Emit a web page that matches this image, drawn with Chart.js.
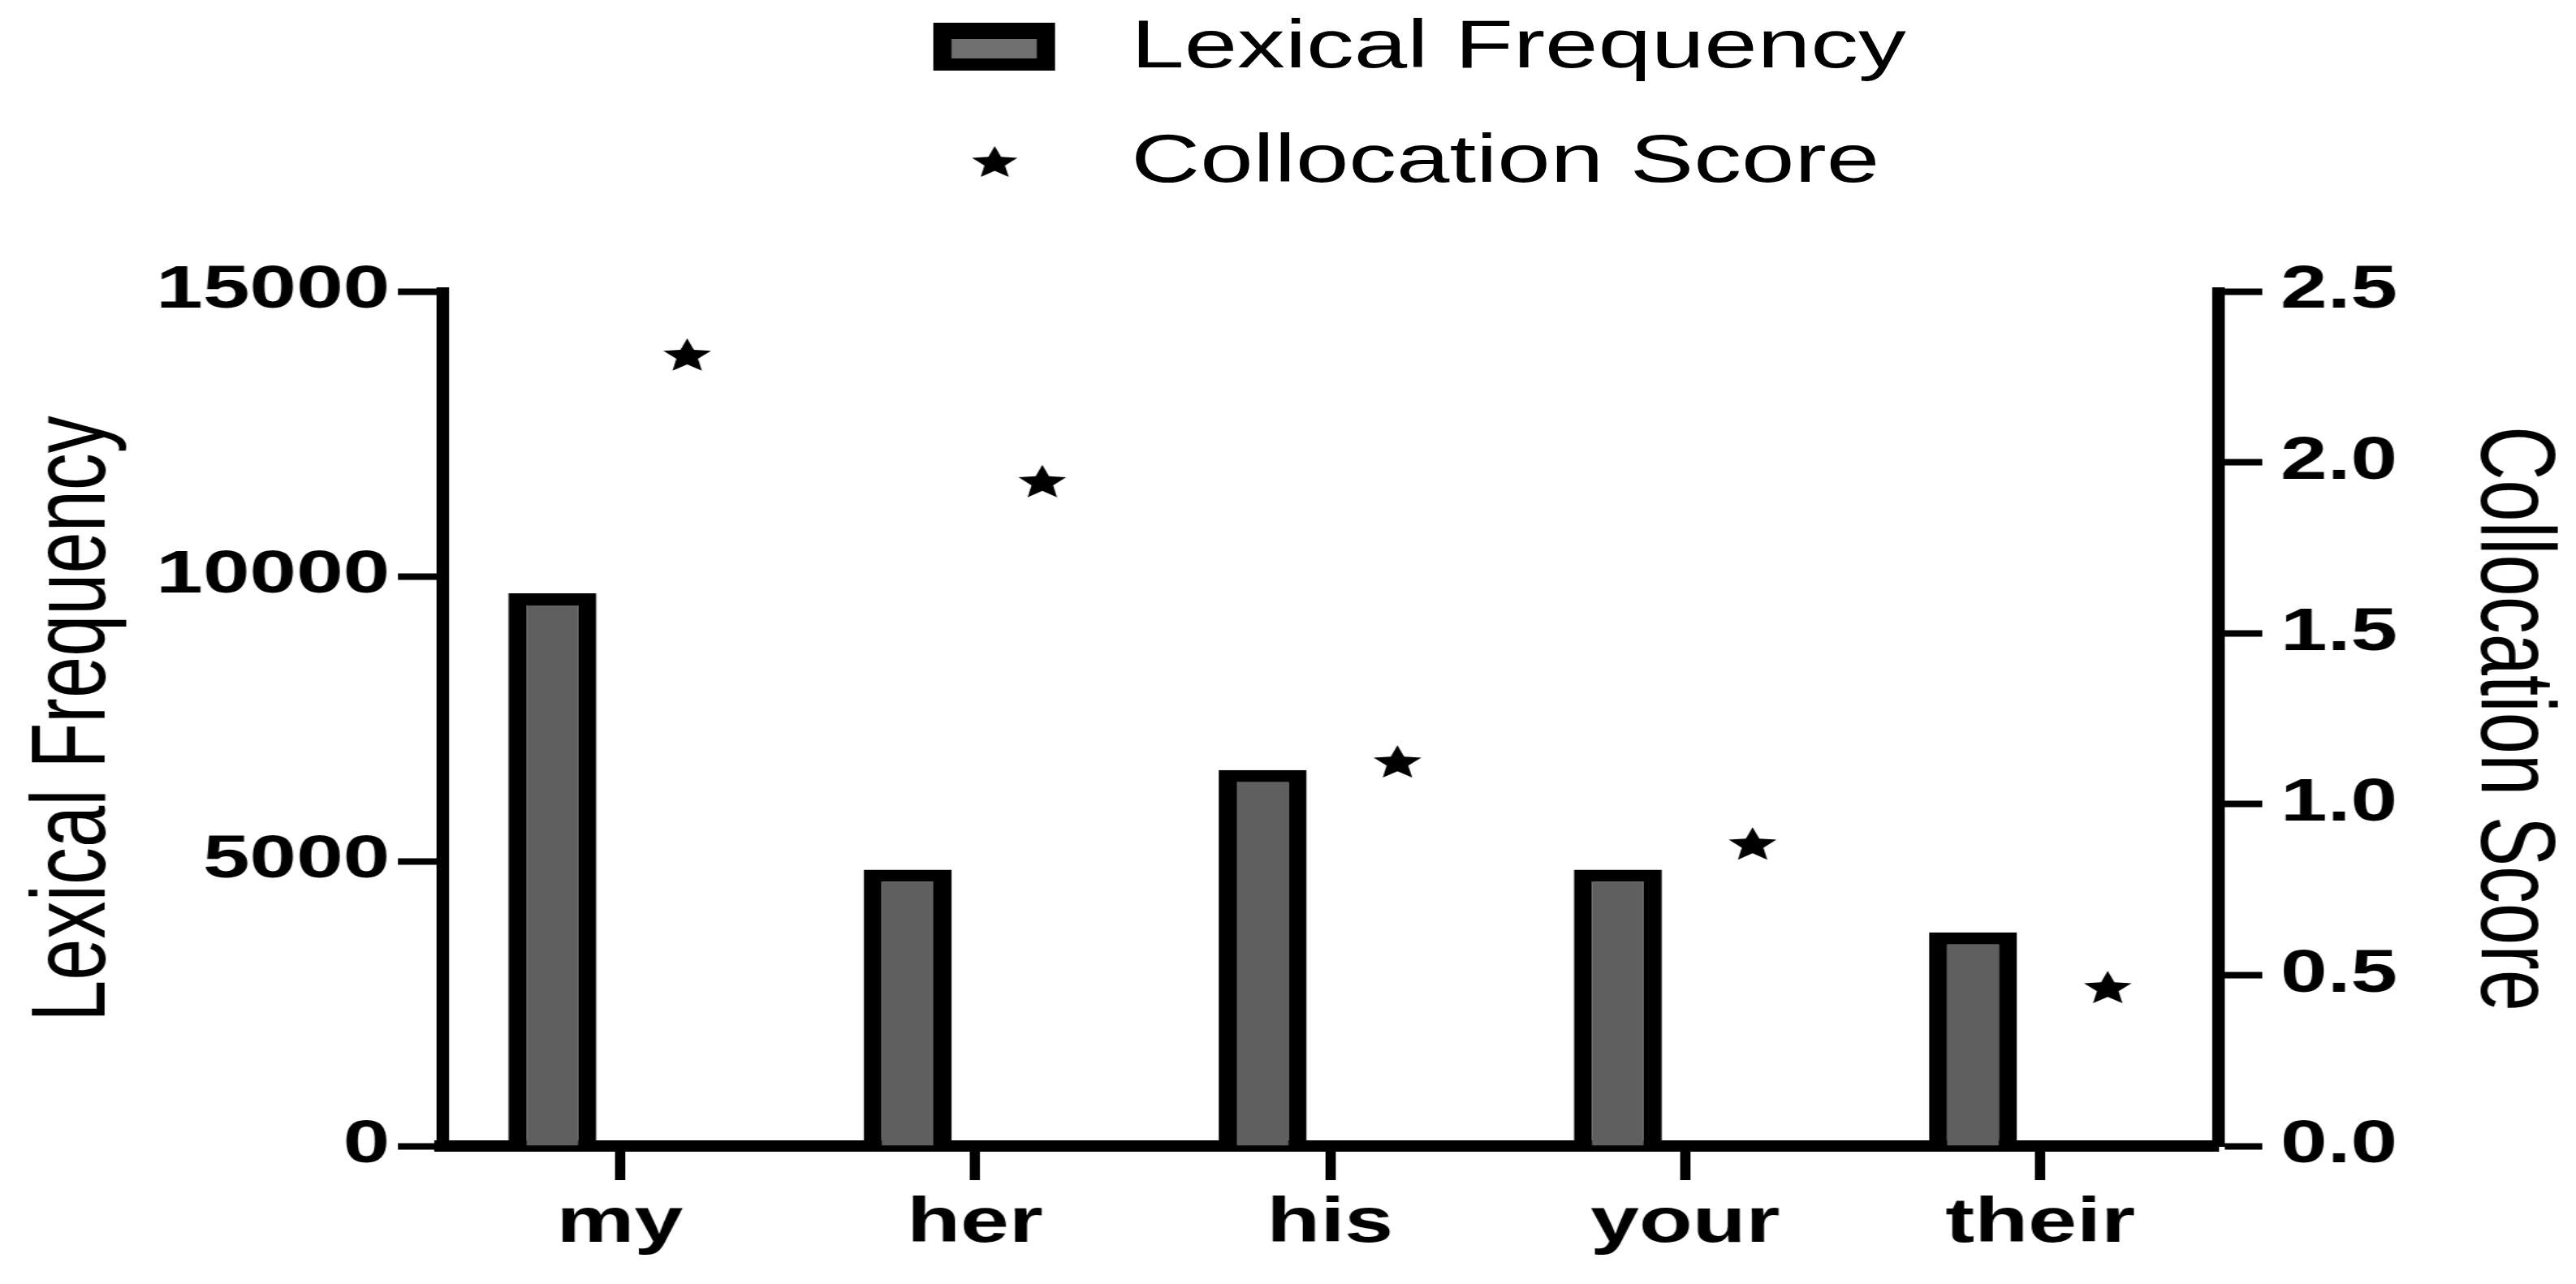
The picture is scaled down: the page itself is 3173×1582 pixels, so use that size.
<!DOCTYPE html>
<html>
<head>
<meta charset="utf-8">
<title>Lexical Frequency and Collocation Score</title>
<script src="https://cdn.jsdelivr.net/npm/chart.js@4.4.1/dist/chart.umd.min.js"></script>
<style>
    html, body { margin: 0; padding: 0; background: #fff; overflow: hidden; }
    /* the original figure is stretched sideways, so the whole stage is too */
    #stage { position: relative; width: 2266px; height: 1582px; transform: scaleX(1.40026); transform-origin: 0 0; }
    #saleChart { position: absolute; left: 0; top: 0; }
    .legend-box { position: absolute; left: 821px; top: 28px; width: 107px; height: 59px; box-sizing: border-box;
                  border-style: solid; border-color: #000; border-width: 20px 16px 15px 16px; background: #707070; }
    .legend-star { position: absolute; left: 845px; top: 171px; }
    .legend-text { position: absolute; left: 995px; font-family: 'Liberation Sans', Arial, sans-serif;
                   font-size: 84px; line-height: 84px; color: #000; white-space: nowrap; }
</style>
</head>
<body>
<div id="stage">
    <canvas id="saleChart" width="2266" height="1582" style="width:2266px;height:1582px"></canvas>
    <div class="legend-box"></div>
    <div class="legend-text" id="legendText0" style="top:12px"></div>
    <canvas class="legend-star" id="legendStar" width="60" height="60"></canvas>
    <div class="legend-text" id="legendText1" style="top:153px"></div>
</div>
<script>
    'use strict';

    var categories       = ['my', 'her', 'his', 'your', 'their'];
    var lexicalFrequency = [9700, 4850, 6600, 4850, 3750];
    var collocationScore = [2.31, 1.94, 1.12, 0.88, 0.46];
    var frequencyTicks   = [0, 5000, 10000, 15000];
    var scoreTicks       = [0, 0.5, 1.0, 1.5, 2.0, 2.5];

    var black = '#000';
    var barGrey = '#5f5f5f';

    function starPath(ctx, cx, cy, outer, inner) {
        ctx.beginPath();
        for (var k = 0; k < 10; k++) {
            var r = (k % 2 === 0) ? outer : inner;
            var a = -Math.PI / 2 + k * Math.PI / 5;
            var px = cx + r * Math.cos(a);
            var py = cy + r * Math.sin(a);
            if (k === 0) { ctx.moveTo(px, py); } else { ctx.lineTo(px, py); }
        }
        ctx.closePath();
    }

    // draws a filled star on top of each (invisible) collocation bar
    var starMarks = {
        id: 'starMarks',
        afterDatasetsDraw: function (chart) {
            var ctx = chart.ctx;
            var meta = chart.getDatasetMeta(1);
            ctx.save();
            ctx.fillStyle = black;
            meta.data.forEach(function (bar) {
                starPath(ctx, bar.x, bar.y, 22, 10);
                ctx.fill();
            });
            ctx.restore();
        }
    };

    var tickFont = { family: "'Liberation Sans', Arial, sans-serif", size: 74, weight: 'bold' };
    var titleFont = { family: "'Liberation Sans', Arial, sans-serif", size: 92, lineHeight: 1.2 };

    var SALECHART = document.getElementById('saleChart');

    var chart = new Chart(SALECHART, {
        type: 'bar',
        data: {
            labels: categories,
            datasets: [
                {
                    label: 'Lexical Frequency',
                    data: lexicalFrequency,
                    yAxisID: 'y',
                    backgroundColor: barGrey,
                    borderColor: black,
                    borderWidth: { left: 16, right: 16, top: 15, bottom: 0 },
                    borderSkipped: 'start',
                    barPercentage: 0.653,
                    categoryPercentage: 0.759
                },
                {
                    label: 'Collocation Score',
                    data: collocationScore,
                    yAxisID: 'y1',
                    backgroundColor: 'rgba(0, 0, 0, 0)',
                    borderWidth: 0,
                    barPercentage: 0.653,
                    categoryPercentage: 0.759
                }
            ]
        },
        options: {
            responsive: false,
            animation: false,
            devicePixelRatio: 1,
            layout: { padding: { left: 11, right: 2, top: 359, bottom: 0 } },
            plugins: {
                legend: { display: false },
                tooltip: { enabled: false }
            },
            scales: {
                x: {
                    offset: true,
                    z: 1,
                    afterFit: function (axis) { axis.height = 170; },
                    border: { display: true, color: black, width: 14 },
                    grid: { display: true, drawOnChartArea: false, offset: false, tickLength: 42, tickWidth: 9, tickColor: black },
                    ticks: { color: black, padding: 9, maxRotation: 0, autoSkip: false,
                             font: { family: tickFont.family, size: 77, weight: 'bold' } }
                },
                y: {
                    position: 'left',
                    min: frequencyTicks[0],
                    max: frequencyTicks[frequencyTicks.length - 1],
                    afterBuildTicks: function (axis) {
                        axis.ticks = frequencyTicks.map(function (v) { return { value: v }; });
                    },
                    afterFit: function (axis) { axis.width = 378; },
                    border: { display: true, color: black, width: 11 },
                    grid: { display: true, drawOnChartArea: false, tickLength: 39, tickWidth: 8, tickColor: black },
                    ticks: { color: black, padding: 7, font: tickFont,
                             callback: function (v) { return String(v); } },
                    title: { display: true, text: 'Lexical Frequency', color: black, padding: 0, font: titleFont }
                },
                y1: {
                    position: 'right',
                    min: scoreTicks[0],
                    max: scoreTicks[scoreTicks.length - 1],
                    afterBuildTicks: function (axis) {
                        axis.ticks = scoreTicks.map(function (v) { return { value: v }; });
                    },
                    afterFit: function (axis) { axis.width = 313; },
                    border: { display: true, color: black, width: 11 },
                    grid: { display: true, drawOnChartArea: false, tickLength: 39, tickWidth: 8, tickColor: black },
                    ticks: { color: black, padding: 16, font: tickFont,
                             callback: function (v) { return Number(v).toFixed(1); } },
                    title: { display: true, text: 'Collocation Score', color: black, padding: 0, font: titleFont }
                }
            }
        },
        plugins: [starMarks]
    });

    // legend, one entry per line like the original
    document.getElementById('legendText0').textContent = chart.data.datasets[0].label;
    document.getElementById('legendText1').textContent = chart.data.datasets[1].label;
    var starCtx = document.getElementById('legendStar').getContext('2d');
    starCtx.fillStyle = black;
    starPath(starCtx, 30, 30, 21, 9.5);
    starCtx.fill();
</script>
</body>
</html>
